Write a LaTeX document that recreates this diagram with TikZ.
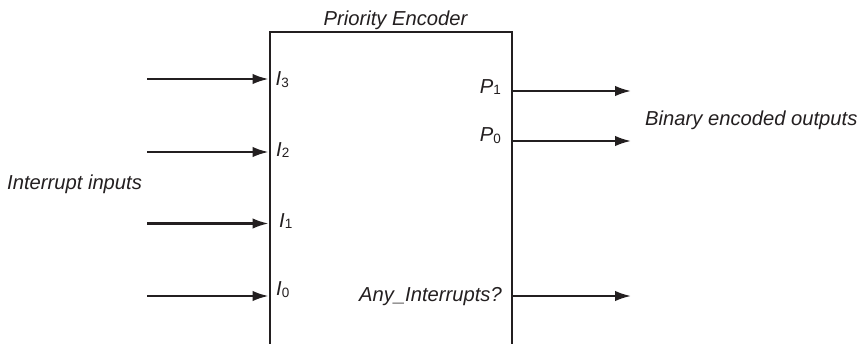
\documentclass[tikz,border=0pt]{standalone}
\usepackage{fontspec}
\setmainfont{Liberation Sans}
\usetikzlibrary{arrows.meta}
\definecolor{ink}{RGB}{35,31,32}
\newcommand\lowidx[1]{\raisebox{-0.08em}{\upshape\fontsize{13.5}{14}\selectfont #1}}
\begin{document}
\begin{tikzpicture}[x=1pt,y=-1pt, color=ink,
  every node/.style={font=\fontsize{20.2}{24}\selectfont\itshape, inner sep=0pt, text=ink},
  wire/.style={draw=ink, line width=2.1pt, -{Latex[length=16pt,width=10.5pt]}},
  blockbox/.style={draw=ink, line width=2.1pt, rectangle, anchor=north west,
    minimum width=242pt, minimum height=340pt}]
  \useasboundingbox (0,0) rectangle (862,343);

  % encoder block (runs past the lower edge)
  \node[blockbox] (enc) at (268.5,30.5) {};
  \node[anchor=base] (title) at (395.5,25) {Priority Encoder};

  % input side
  \coordinate (s3) at (147,79);
  \coordinate (s2) at (147,152);
  \coordinate (s1) at (147,223.5);
  \coordinate (s0) at (147,296);
  \foreach \k in {3,2,1,0}{
    \draw[wire] (s\k) -- (enc.west |- s\k);
  }
  \node[anchor=base west] (i3) at (275.5,85.7) {I\lowidx{3}};
  \node[anchor=base west] (i2) at (276,156) {I\lowidx{2}};
  \node[anchor=base west] (i1) at (279,227.3) {I\lowidx{1}};
  \node[anchor=base west] (i0) at (276,295.7) {I\lowidx{0}};
  \node[anchor=base west] (inlab) at (7,189) {Interrupt inputs};

  % output side
  \coordinate (e1) at (631,91);
  \coordinate (e0) at (631,141);
  \coordinate (ea) at (631,296);
  \foreach \k in {1,0,a}{
    \draw[wire] (enc.east |- e\k) -- (e\k);
  }
  \node[anchor=base east] (p1) at (501,93.3) {P\lowidx{1}};
  \node[anchor=base east] (p0) at (501,141.7) {P\lowidx{0}};
  \node[anchor=base east] (any) at (502,301.5) {Any\_Interrupts?};
  \node[anchor=base west] (outlab) at (645,125.7) {Binary encoded outputs};
\end{tikzpicture}
\end{document}
